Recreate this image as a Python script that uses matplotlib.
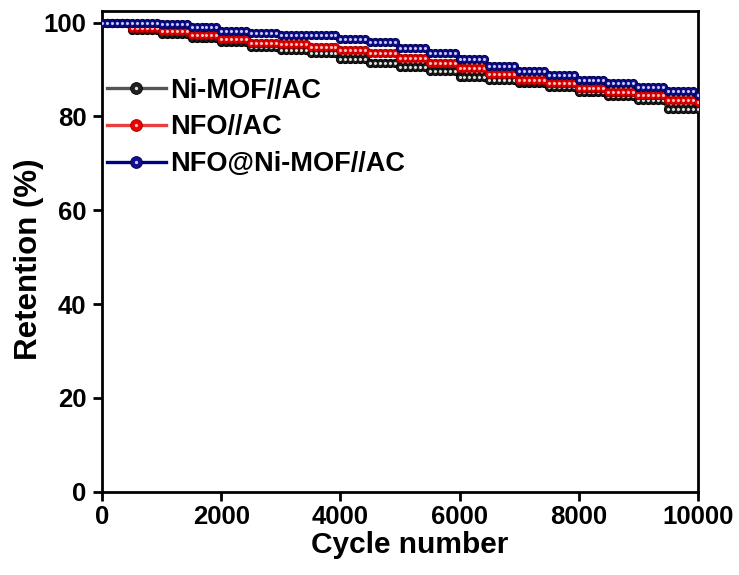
import matplotlib

matplotlib.use("Agg")
import matplotlib.pyplot as plt
import numpy as np
from matplotlib.legend_handler import HandlerTuple
from matplotlib.lines import Line2D

plt.rcParams["font.family"] = ["Liberation Sans", "DejaVu Sans"]
plt.rcParams["font.weight"] = "bold"

# Retention, one level per 500-cycle block
# (blocks start at 0, 500, ..., 9500), plus the final value at 10000.
block_start = [0, 500, 1000, 1500, 2000, 2500, 3000, 3500, 4000, 4500,
               5000, 5500, 6000, 6500, 7000, 7500, 8000, 8500, 9000, 9500]
ni_mof = [100, 98.4, 97.5, 96.7, 95.9, 94.9, 94.2, 93.5, 92.2, 91.3,
          90.5, 89.6, 88.4, 87.8, 87.1, 86.2, 85.3, 84.4, 83.5, 81.5]
nfo = [100, 98.8, 98.2, 97.3, 96.6, 95.7, 95.5, 94.9, 94.2, 93.6,
       92.4, 91.5, 90.3, 89.1, 87.8, 87.1, 86.0, 85.3, 84.6, 83.5]
nfo_mof = [100, 100, 99.8, 99.0, 98.3, 97.7, 97.4, 97.4, 96.5, 95.9,
           94.5, 93.5, 92.2, 90.8, 89.6, 88.8, 87.8, 87.2, 86.2, 85.5]
end_values = [81.5, 83.0, 84.6]

labels = ["Ni-MOF//AC", "NFO//AC", "NFO@Ni-MOF//AC"]
line_colors = ["#555555", "#e84040", "#000080"]
face_colors = ["#202020", "#ee0000", "#101090"]
edge_colors = ["#000000", "#a00000", "#000050"]
glint_colors = ["#e0e0e0", "#ffc0c0", "#c8c8ff"]

# recorded points, about six per block
cycles = np.linspace(0, 10000, 121)


def sample(levels, end):
    idx = np.searchsorted(block_start, cycles, side="right") - 1
    vals = np.asarray(levels, dtype=float)[idx]
    vals[-1] = end
    return vals


fig = plt.figure(figsize=(7.39, 5.75), dpi=100)
ax = fig.add_axes([0.1384, 0.1449, 0.8057, 0.8361])

handles = []
for z, (levels, end, lc, fc, ec, gc) in enumerate(
        zip([ni_mof, nfo, nfo_mof], end_values,
            line_colors, face_colors, edge_colors, glint_colors)):
    y = sample(levels, end)
    ax.plot(cycles, y, "-o", color=lc, lw=2.4, ms=5.8,
            mfc=fc, mec=ec, mew=0.8, zorder=3 + 2 * z)
    ax.plot(cycles, y, "o", ls="none", ms=2.2, mfc=gc,
            mec="none", zorder=4 + 2 * z)
    # bigger balls for the legend keys
    key = Line2D([], [], color=lc, lw=2.4, marker="o", ms=8.5,
                 mfc=fc, mec=ec, mew=0.6)
    shine = Line2D([], [], ls="none", marker="o", ms=2.4, mfc=gc, mec="none")
    handles.append((key, shine))

ax.set_xlim(0, 10000)
ax.set_ylim(0, 102.5)
ax.set_xticks([0, 2000, 4000, 6000, 8000, 10000])
ax.set_yticks([0, 20, 40, 60, 80, 100])
ax.tick_params(axis="both", direction="out", length=6.5, width=2,
               labelsize=18.5)
ax.tick_params(axis="y", pad=5)
ax.tick_params(axis="x", pad=3)
for s in ax.spines.values():
    s.set_linewidth(2)

ax.set_xlabel("Cycle number", fontsize=21.5, fontweight="bold")
ax.set_ylabel("Retention (%)", fontsize=22.5, fontweight="bold")
ax.xaxis.set_label_coords(0.517, -0.082)
ax.yaxis.set_label_coords(-0.098, 0.484)

ax.legend(handles, labels, handler_map={tuple: HandlerTuple(ndivide=1, pad=0)},
          loc="upper left", bbox_to_anchor=(-0.02, 0.895), frameon=False,
          fontsize=19.5, handlelength=2.2, handletextpad=0.15,
          labelspacing=0.4, borderaxespad=0.2)

fig.savefig("out.png", dpi=100)
